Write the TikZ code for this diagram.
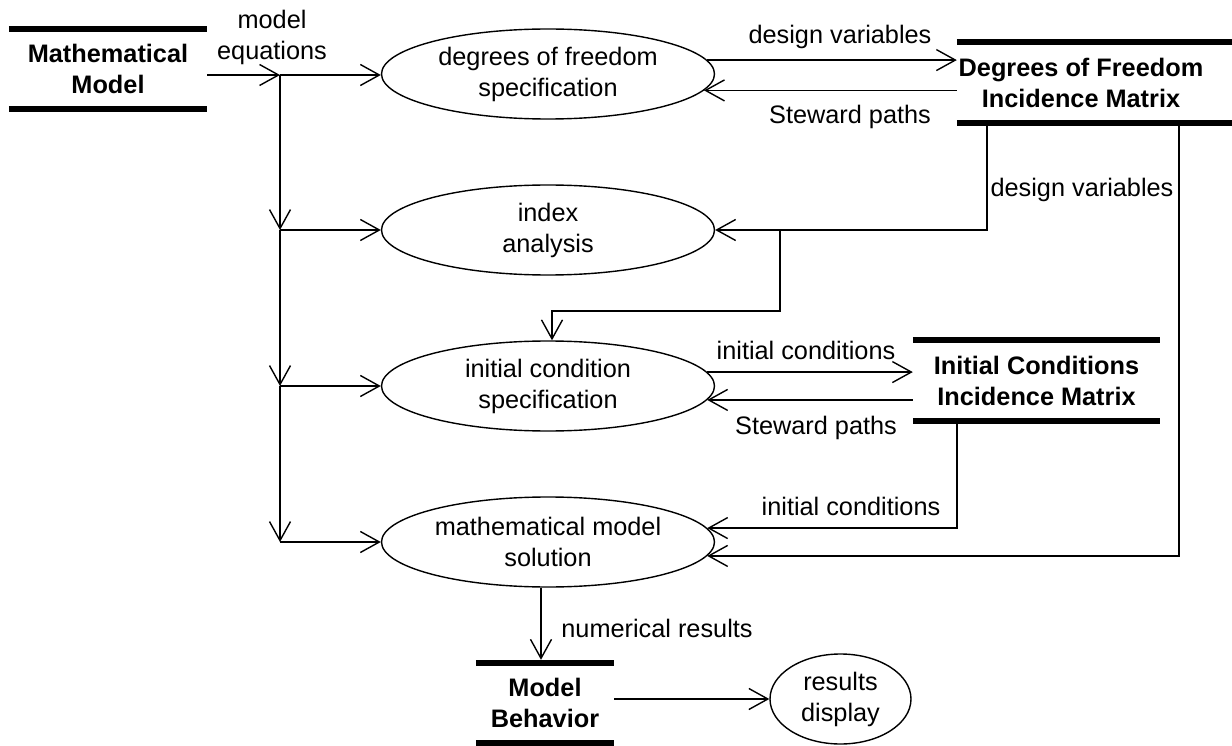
\documentclass[tikz,border=0pt]{standalone}
\usepackage{fontspec}
\setmainfont{Liberation Sans}
\usetikzlibrary{arrows.meta,shapes.geometric}
\begin{document}
\begin{tikzpicture}[x=1pt,y=-1pt,
  every node/.style={font=\fontsize{25.3}{31}\selectfont},
  proc/.style={ellipse,draw,line width=1.4pt,minimum width=333pt,minimum height=90pt,inner sep=0pt,align=center},
  store/.style={inner sep=0pt,align=center,font=\fontsize{25.3}{31}\selectfont\bfseries},
  bar/.style={line width=5.5pt},
  lbl/.style={inner sep=0pt,align=center},
  arr/.style={line width=1.4pt,-{Straight Barb[length=19pt,width=21pt]}},
  ln/.style={line width=1.4pt}]
\useasboundingbox (0,0) rectangle (1232,746);
% stores
\node[store,minimum width=198pt,minimum height=80pt] (mm) at (108,69) {Mathematical\\Model};
\node[store,minimum width=248pt,minimum height=81pt] (dof) at (1081,82.5) {Degrees of Freedom\\Incidence Matrix};
\node[store,minimum width=247pt,minimum height=81pt] (ic) at (1036.5,380.5) {Initial Conditions\\Incidence Matrix};
\node[store,minimum width=138pt,minimum height=80pt] (mb) at (545,703) {Model\\Behavior};
\draw[bar] (mm.north west) -- (mm.north east);
\draw[bar] (mm.south west) -- (mm.south east);
\draw[bar] (dof.north west) -- ++(280,0);
\draw[bar] (dof.south west) -- ++(280,0);
\draw[bar] (ic.north west) -- (ic.north east);
\draw[bar] (ic.south west) -- (ic.south east);
\draw[bar] (mb.north west) -- (mb.north east);
\draw[bar] (mb.south west) -- (mb.south east);
% processes
\node[proc] (e1) at (548,74) {degrees of freedom\\specification};
\node[proc] (e2) at (548,230) {index\\analysis};
\node[proc] (e3) at (548,386) {initial condition\\specification};
\node[proc] (e4) at (548,542) {mathematical model\\solution};
\node[proc,minimum width=141pt] (rd) at (840.5,699) {results\\display};
% junctions
\coordinate (j1) at (280,75);
\coordinate (j2) at (280,230);
\coordinate (j3) at (280,386);
\coordinate (j4) at (280,542);
\draw[arr] (mm.east |- j1) -- (j1);
\draw[arr] (j1) -- (j1 -| e1.west);
\draw[arr] (j1) -- (j2);
\draw[arr] (j2) -- (j3);
\draw[arr] (j3) -- (j4);
\draw[arr] (j2) -- (e2.west);
\draw[arr] (j3) -- (e3.west);
\draw[arr] (j4) -- (e4.west);
% DoF connections
\draw[arr] (e1.5) -- (e1.5 -| dof.west);
\draw[arr] (e1.-6.3 -| dof.west) -- (e1.-6.3);
\draw[arr] ([xshift=30pt]dof.south west) |- (e2.east);
\draw[arr] ([xshift=222pt]dof.south west) |- (e4.-5.87);
% index -> initial condition
\coordinate (k1) at (780,230);
\coordinate (k2) at (780,311);
\draw[arr] (k1) -- (k2) -| ([xshift=4pt]e3.north);
% IC connections
\draw[arr] (e3.5.46) -- (e3.5.46 -| ic.west);
\draw[arr] (e3.-5.87 -| ic.west) -- (e3.-5.87);
\draw[arr] ([xshift=44pt]ic.south west) |- (e4.5.46);
% results
\draw[arr] ([xshift=-7pt]e4.south) -- ([xshift=-4pt,yshift=3pt]mb.north);
\draw[arr] (rd.west -| mb.east) -- (rd.west);
% labels
\node[lbl] (lmeq) at (272,37.5) {model\\equations};
\node[lbl] (ldv1) at (840,37) {design variables};
\node[lbl] (lsp1) at (850,117) {Steward paths};
\node[lbl] (ldv2) at (1082,190) {design variables};
\node[lbl] (lic1) at (806,350) {initial conditions};
\node[lbl] (lsp2) at (816,428) {Steward paths};
\node[lbl] (lic2) at (851,506) {initial conditions};
\node[lbl] (lnr) at (657,628) {numerical results};
\end{tikzpicture}
\end{document}
